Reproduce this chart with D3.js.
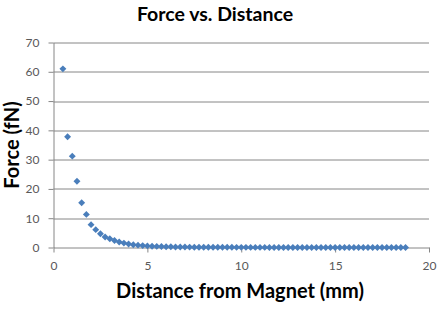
<!DOCTYPE html>
<html>
<head>
<meta charset="utf-8">
<script src="https://cdn.jsdelivr.net/npm/d3@7"></script>
<style>
  body { margin: 0; background: #fff; }
  svg { display: block; font-family: Lato, "Open Sans", sans-serif; }
</style>
</head>
<body>
<svg id="canvas"></svg>
<script>
const distances = [
  0.5, 0.75, 1, 1.25, 1.5, 1.75, 2, 2.25, 2.5, 2.75,
  3, 3.25, 3.5, 3.75, 4, 4.25, 4.5, 4.75, 5, 5.25,
  5.5, 5.75, 6, 6.25, 6.5, 6.75, 7, 7.25, 7.5, 7.75,
  8, 8.25, 8.5, 8.75, 9, 9.25, 9.5, 9.75, 10, 10.25,
  10.5, 10.75, 11, 11.25, 11.5, 11.75, 12, 12.25, 12.5, 12.75,
  13, 13.25, 13.5, 13.75, 14, 14.25, 14.5, 14.75, 15, 15.25,
  15.5, 15.75, 16, 16.25, 16.5, 16.75, 17, 17.25, 17.5, 17.75,
  18, 18.25, 18.5, 18.75
];
const forces = [
  61.0, 37.8, 31.2, 22.6, 15.3, 11.3, 7.8, 6.1, 4.7, 3.6,
  3.0, 2.4, 1.9, 1.5, 1.2, 0.95, 0.8, 0.65, 0.55, 0.45,
  0.38, 0.32, 0.27, 0.23, 0.2, 0.17, 0.15, 0.13, 0.11, 0.1,
  0.09, 0.08, 0.08, 0.07, 0.07, 0.06, 0.06, 0.05, 0.05, 0.05,
  0.04, 0.04, 0.04, 0.04, 0.03, 0.03, 0.03, 0.03, 0.03, 0.02,
  0.02, 0.02, 0.02, 0.02, 0.02, 0.02, 0.02, 0.02, 0.02, 0.01,
  0.01, 0.01, 0.01, 0.01, 0.01, 0.01, 0.01, 0.01, 0.01, 0.01,
  0.01, 0.01, 0.01, 0.01
];
const xTicks = [0, 5, 10, 15, 20];
const yTicks = [0, 10, 20, 30, 40, 50, 60, 70];

const title = "Force vs. Distance";
const xTitle = "Distance from Magnet (mm)";
const yTitle = "Force (fN)";

const width = 437;
const height = 312;
const margin = { top: 42.5, right: 8, bottom: 64.5, left: 53.5 };
const innerWidth = width - margin.left - margin.right;
const innerHeight = height - margin.top - margin.bottom;

const data = distances.map((d, i) => ({ x: d, y: forces[i] }));

const svg = d3.select("#canvas").attr("width", width).attr("height", height);

const xScale = d3.scaleLinear().domain([0, 20]).range([0, innerWidth]);
const yScale = d3.scaleLinear().domain([0, 70]).range([innerHeight, 0]);

// horizontal gridlines
const gridGroup = svg.append("g").attr("transform", `translate(${margin.left}, ${margin.top})`);
gridGroup.selectAll("line")
  .data(yTicks.filter(t => t > 0))
  .join("line")
  .attr("x1", 0)
  .attr("x2", innerWidth)
  .attr("y1", d => Math.round(yScale(d)) + 0.5)
  .attr("y2", d => Math.round(yScale(d)) + 0.5)
  .attr("stroke", "#868686")
  .attr("stroke-width", 1);

const xAxis = d3.axisBottom(xScale).tickValues(xTicks).tickSizeInner(5).tickSizeOuter(0).tickPadding(9);
const yAxis = d3.axisLeft(yScale).tickValues(yTicks).tickSizeInner(5).tickSizeOuter(0).tickPadding(9);

const xGroup = svg.append("g").attr("transform", `translate(${margin.left}, ${margin.top + innerHeight})`).call(xAxis);
const yGroup = svg.append("g").attr("transform", `translate(${margin.left}, ${margin.top})`).call(yAxis);

[xGroup, yGroup].forEach(g => {
  g.attr("font-family", null).attr("font-size", null);
  g.selectAll("path, line").attr("stroke", "#868686");
  g.selectAll("text")
    .attr("fill", "#595959")
    .style("font-size", "12px");
});

const mainGroup = svg.append("g").attr("transform", `translate(${margin.left}, ${margin.top})`);
const diamond = d3.symbol().type(d3.symbolSquare).size(24);
mainGroup.selectAll("path")
  .data(data)
  .join("path")
  .attr("d", diamond)
  .attr("transform", d => `translate(${xScale(d.x)}, ${yScale(d.y)}) rotate(45)`)
  .attr("fill", "#4a7ebb");

svg.append("text")
  .attr("x", 215)
  .attr("y", 21)
  .attr("text-anchor", "middle")
  .style("font-size", "19.5px")
  .style("font-weight", "bold")
  .attr("fill", "#000")
  .text(title);

svg.append("text")
  .attr("x", 240)
  .attr("y", 298)
  .attr("text-anchor", "middle")
  .style("font-size", "20px")
  .style("font-weight", "bold")
  .attr("fill", "#000")
  .text(xTitle);

svg.append("text")
  .attr("transform", `translate(19, ${margin.top + innerHeight / 2}) rotate(-90)`)
  .attr("text-anchor", "middle")
  .style("font-size", "20px")
  .style("font-weight", "bold")
  .attr("fill", "#000")
  .text(yTitle);
</script>
</body>
</html>
